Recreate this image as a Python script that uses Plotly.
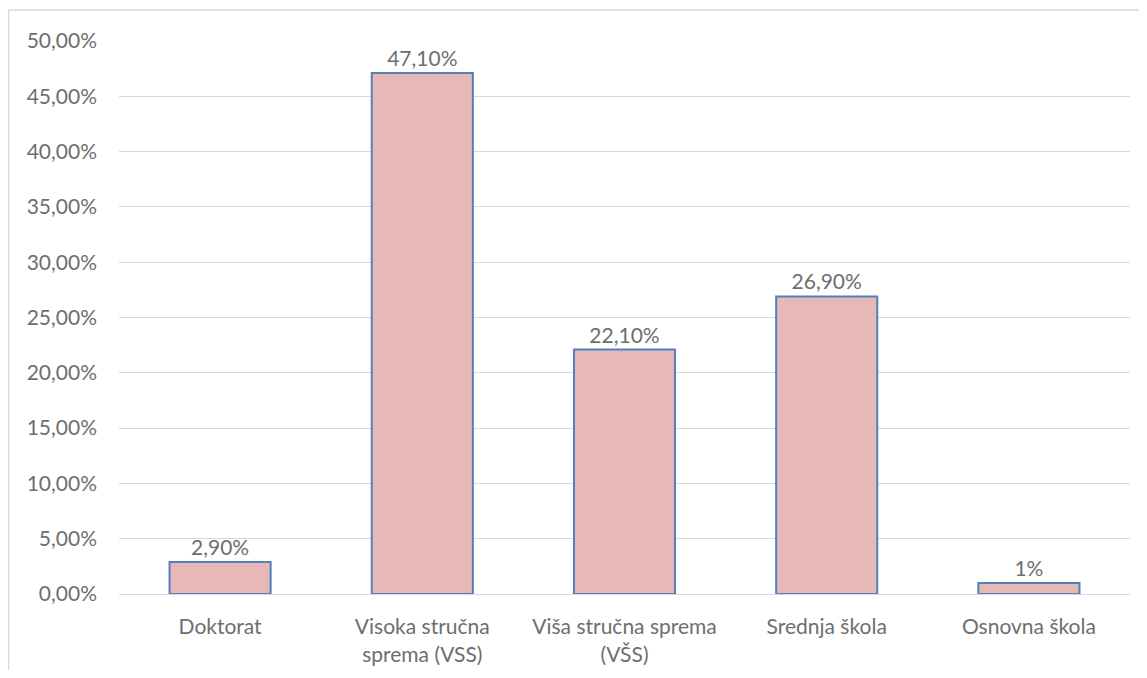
import plotly.graph_objects as go

categories = ["Doktorat", "Visoka stručna<br>sprema (VSS)", "Viša stručna sprema<br>(VŠS)", "Srednja škola", "Osnovna škola"]
values = [0.029, 0.471, 0.221, 0.269, 0.01]
labels = ["2,90%", "47,10%", "22,10%", "26,90%", "1%"]

W, H = 1131, 662
ml, mr, mt, mb = 111, 9, 33, 76
pw, ph = W - ml - mr, H - mt - mb
FS = 21
FONT = "Lato, Open Sans, sans-serif"
TC = "#6E6E6E"

fig = go.Figure(go.Bar(
    x=categories, y=values, text=labels, textposition="outside",
    textfont=dict(size=FS, color=TC, family=FONT),
    marker=dict(color="#E6B8B7", line=dict(color="#4F81BD", width=2)),
    cliponaxis=False,
))

fig.update_layout(
    width=W, height=H,
    margin=dict(l=ml, r=mr, t=mt, b=mb, autoexpand=False),
    paper_bgcolor="white", plot_bgcolor="white",
    separators=",.",
    bargap=0.5,
    font=dict(family=FONT, size=FS, color=TC),
    showlegend=False,
    yaxis=dict(range=[0, 0.5], dtick=0.05, tickformat=".2%", gridcolor="#D9D9D9",
               gridwidth=1, zeroline=False, showline=False, ticks="", automargin=False,
               ticklabelstandoff=21, tickfont=dict(size=FS, color=TC, family=FONT)),
    xaxis=dict(showline=True, linecolor="#D9D9D9", linewidth=1, ticks="", automargin=False,
               ticklabelstandoff=14,
               tickfont=dict(size=FS, color=TC, family=FONT)),
)

xl = 0.5 / pw - ml / pw
yt = (H - mb - 2) / ph
fig.add_shape(type="line", xref="paper", yref="paper", x0=xl, x1=xl, y0=yt, y1=-0.3,
              line=dict(color="#D9D9D9", width=1.5))
fig.add_shape(type="line", xref="paper", yref="paper", x0=xl, x1=1.1, y0=yt, y1=yt,
              line=dict(color="#D9D9D9", width=1.5))

fig.write_html("out.html")
